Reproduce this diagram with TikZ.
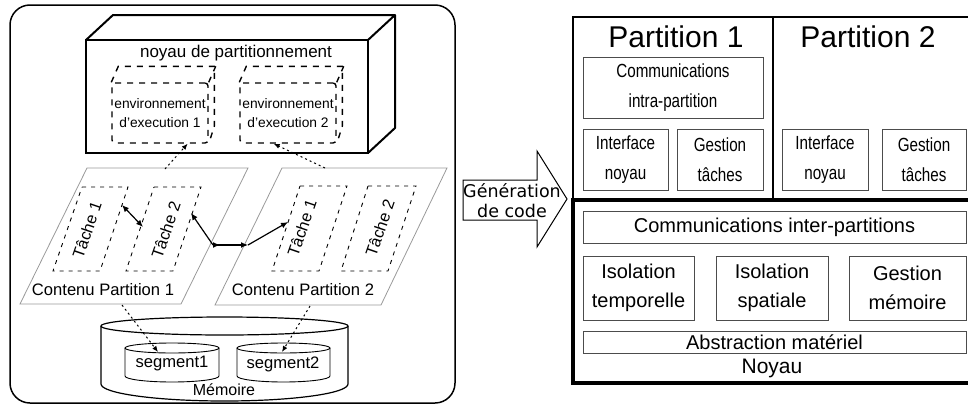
\documentclass[tikz,border=0pt]{standalone}
\usepackage{fontspec}
\setmainfont{Liberation Sans}
\newfontfamily\narrowsans{Liberation Sans}[FakeStretch=0.8]
\newfontfamily\dejavusans{DejaVu Sans}
\usetikzlibrary{arrows.meta}

\begin{document}
\begin{tikzpicture}[x=1pt,y=-1pt,
  every node/.style={inner sep=0pt},
  envbox/.style={draw, line width=1.4pt, dash pattern=on 6pt off 6pt, rounded corners=3pt,
    minimum width=96pt, minimum height=60pt, align=center, font=\fontsize{13.8}{19}\selectfont},
  envback/.style={line width=1.4pt, dash pattern=on 6pt off 6pt},
  taskline/.style={line width=0.9pt, dash pattern=on 4pt off 5pt},
  tasklabel/.style={rotate=71, font=\fontsize{16.3}{19}\selectfont},
  contenu/.style={draw=black!40, line width=0.8pt},
  leftlabel/.style={font=\fontsize{16.6}{20}\selectfont},
  dotarrow/.style={-{Latex[length=6pt,width=5pt]}, line width=1pt, dash pattern=on 2pt off 3pt},
  taskarrow/.style={line width=1.2pt},
  partbox/.style={draw=black!70, line width=0.8pt, align=center,
    font=\narrowsans\fontsize{19}{30}\selectfont},
  kernelbox/.style={draw=black!70, line width=0.8pt, align=center,
    font=\fontsize{20}{29}\selectfont}]
  \useasboundingbox (0,0) rectangle (968,407);

  % Left frame
  \draw[line width=1.5pt, rounded corners=20pt] (10,5) rectangle (455,403);

  % Partitioning kernel (3D box)
  \draw[line width=2pt, line join=round] (86,40) -- (113,15) -- (395,15) -- (368,40)
    (368,153) -- (395,128) -- (395,15);
  \draw[line width=2pt] (86,40) rectangle (368,153);
  \node[font=\fontsize{17}{20}\selectfont] (noyaupart) at (236,53) {noyau de partitionnement};

  % Execution environments
  \node[envbox] (env1) at (160,113) {environnement\\d'execution 1};
  \node[envbox] (env2) at (288,113) {environnement\\d'execution 2};
  \foreach \e in {env1,env2} {
    \draw[envback] (\e.north west) -- ++(7,-16) -- ++(96,0) -- ++(0,60) -- (\e.south east);
    \draw[envback] (\e.north east) -- ++(7,-16);
  }

  % Partition contents
  \draw[contenu] (87,168) -- (248,168) -- (181,304) -- (20,304) -- cycle;
  \draw[contenu] (282,168) -- (447,168) -- (381,305) -- (215,305) -- cycle;
  \node[leftlabel] (cp1) at (103,290) {Contenu Partition 1};
  \node[leftlabel] (cp2) at (303,290) {Contenu Partition 2};

  % Tasks
  \draw[taskline] (82,187) -- (128,187) -- (100,271) -- (53,271) -- cycle;
  \draw[taskline] (154,187) -- (201,187) -- (173,271) -- (126,271) -- cycle;
  \draw[taskline] (300,186) -- (347,186) -- (319,271) -- (272,271) -- cycle;
  \draw[taskline] (368,186) -- (416,186) -- (388,271) -- (341,271) -- cycle;
  \node[tasklabel] (t11) at (87,230) {Tâche 1};
  \node[tasklabel] (t12) at (166,230) {Tâche 2};
  \node[tasklabel] (t21) at (302,228) {Tâche 1};
  \node[tasklabel] (t22) at (380,228) {Tâche 2};

  % Communications between tasks
  \coordinate (c1a) at (122,205);
  \coordinate (c1b) at (143,227);
  \coordinate (t12r) at (191,213);
  \coordinate (j1) at (213,245);
  \coordinate (j2) at (248,245);
  \coordinate (t21l) at (288,222);
  \draw[taskarrow, {Latex[length=7pt,width=6pt]}-{Latex[length=7pt,width=6pt]}] (c1a) -- (c1b);
  \draw[taskarrow, -{Latex[length=7pt,width=6pt]}] (j1) -- (t12r);
  \draw[taskarrow, {Latex[length=7pt,width=6pt,reversed]}-{Latex[length=7pt,width=6pt]}] (j1) -- (j2);
  \draw[taskarrow, -{Latex[length=7pt,width=6pt]}] (j2) -- (t21l);

  % Memory
  \draw[line width=1.2pt] (101,326) -- (101,384) arc[start angle=180, end angle=0, x radius=123.5, y radius=17]
    -- (348,326);
  \draw[line width=1.2pt] (224.5,326) ellipse[x radius=123.5, y radius=9];
  \draw[line width=0.9pt] (125,348) -- (125,376) arc[start angle=180, end angle=0, x radius=47, y radius=6]
    -- (219,348);
  \draw[line width=0.9pt] (172,348) ellipse[x radius=47, y radius=5];
  \draw[line width=0.9pt] (237,348) -- (237,376) arc[start angle=180, end angle=0, x radius=46.5, y radius=6]
    -- (330,348);
  \draw[line width=0.9pt] (283.5,348) ellipse[x radius=46.5, y radius=5];
  \node[leftlabel] (seg1) at (172,364) {segment1};
  \node[leftlabel] (seg2) at (283,364) {segment2};
  \node[font=\fontsize{16}{20}\selectfont] (memoire) at (224,390) {Mémoire};

  % Mapping links
  \coordinate (p1top) at (165,169);
  \coordinate (p2top) at (325,168);
  \coordinate (p1bot) at (122,305);
  \coordinate (p2bot) at (310,306);
  \coordinate (s1top) at (158,352);
  \coordinate (s2top) at (282,352);
  \draw[dotarrow] (p1top) -- (env1.-48);
  \draw[dotarrow] (p2top) -- (env2.-115);
  \draw[dotarrow] (p1bot) -- (s1top);
  \draw[dotarrow] (p2bot) -- (s2top);

  % Code generation arrow
  \draw[line width=1pt, line join=miter] (463,180) -- (537,180) -- (537,151) -- (567,199)
    -- (537,247) -- (537,220) -- (463,220) -- cycle;
  \node[align=center, font=\dejavusans\fontsize{17.5}{20}\selectfont] (gen) at (512,201) {Génération\\de code};

  % Generated architecture
  \draw[line width=2pt] (968,17) -- (573,17) -- (573,200);
  \draw[line width=2pt] (773,17) -- (773,200);
  \draw[line width=3.5pt] (968,200) -- (573,200) -- (573,383) -- (968,383);

  \node[font=\fontsize{30}{34}\selectfont] (part1) at (676,37) {Partition 1};
  \node[font=\fontsize{30}{34}\selectfont] (part2) at (868,37) {Partition 2};
  \node[partbox, minimum width=180pt, minimum height=61pt] (intra) at (673,87.5) {Communications\\intra-partition};
  \node[partbox, minimum width=85pt, minimum height=61pt] (ifn1) at (625.5,159.5) {Interface\\noyau};
  \node[partbox, minimum width=86pt, minimum height=61pt] (gst1) at (720,159.5) {Gestion\\tâches};
  \node[partbox, minimum width=86pt, minimum height=61pt] (ifn2) at (825,159.5) {Interface\\noyau};
  \node[partbox, minimum width=84pt, minimum height=61pt] (gst2) at (924,159.5) {Gestion\\tâches};

  \node[kernelbox, minimum width=383pt, minimum height=32pt] (inter) at (774.5,227) {Communications inter-partitions};
  \node[kernelbox, minimum width=111pt, minimum height=64pt] (isot) at (638.5,288) {Isolation\\temporelle};
  \node[kernelbox, minimum width=112pt, minimum height=64pt] (isos) at (772,288) {Isolation\\spatiale};
  \node[kernelbox, minimum width=117pt, minimum height=64pt] (gmem) at (907.5,288) {Gestion\\mémoire};
  \node[kernelbox, minimum width=383pt, minimum height=22pt] (abst) at (774.5,342) {Abstraction matériel};
  \node[font=\fontsize{21}{24}\selectfont] (noyau) at (772,368) {Noyau};
\end{tikzpicture}
\end{document}
